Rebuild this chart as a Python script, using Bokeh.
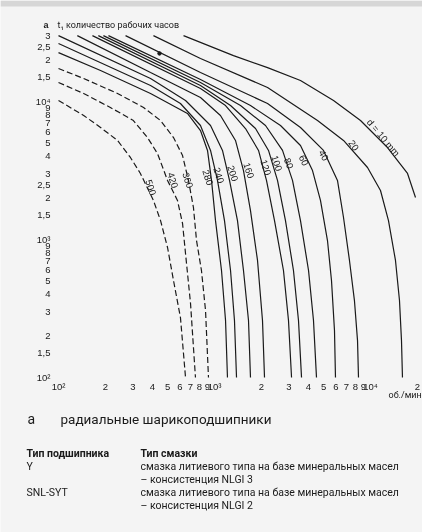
from bokeh.plotting import figure
from bokeh.models import BoxAnnotation, Range1d
from bokeh.core.properties import value
from bokeh.embed import file_html
from bokeh.resources import INLINE

# ---------------- data ----------------
rpm_ticks = [100, 200, 300, 400, 500, 600, 700, 800, 900,
             1000, 2000, 3000, 4000, 5000, 6000, 7000, 8000, 9000,
             10000, 20000]
rpm_tick_labels = ["10\u00b2", "2", "3", "4", "5", "6", "7", "8", "9",
                   "10\u00b3", "2", "3", "4", "5", "6", "7", "8", "9",
                   "10\u2074", "2"]
hour_ticks = [100, 150, 200, 300, 400, 500, 600, 700, 800, 900,
              1000, 1500, 2000, 2500, 3000, 4000, 5000, 6000, 7000, 8000, 9000,
              10000, 15000, 20000, 25000, 30000]
hour_tick_labels = ["10\u00b2", "1,5", "2", "3", "4", "5", "6", "7", "8", "9",
                    "10\u00b3", "1,5", "2", "2,5", "3", "4", "5", "6", "7", "8", "9",
                    "10\u2074", "1,5", "2", "2,5", "3"]

# bore diameter d = 10 mm
rpm_d10 = [633, 1324, 2188, 3558, 5794, 8630, 12850, 17270, 19430]
hrs_d10 = [30000, 21500, 17600, 14200, 10170, 7280, 4640, 3010, 2015]
# d = 20
rpm_d20 = [406, 813, 2188, 4575, 6714, 9570, 11590, 13040, 14460, 15340, 15800, 16030]
hrs_d20 = [30000, 20500, 12630, 7280, 5220, 3325, 2265, 1370, 705, 361, 185, 100]
# d = 40
rpm_d40 = [269, 813, 2188, 3558, 4996, 6142, 6714, 7332, 7890, 8258, 8375]
hrs_d40 = [30000, 16220, 9670, 6480, 4420, 2680, 1443, 705, 361, 185, 100]
# d = 60
rpm_d60 = [209, 813, 1701, 2649, 3558, 4249, 4779, 5300, 5623, 5877, 5964]
hrs_d60 = [30000, 14430, 9350, 6700, 4800, 3160, 1920, 983, 505, 219, 100]
# d = 80
rpm_d80 = [194, 813, 1468, 2123, 2729, 3162, 3558, 4007, 4311, 4506]
hrs_d80 = [30000, 13730, 9350, 6700, 4420, 2680, 1370, 596, 259, 100]
# d = 100
rpm_d100 = [180, 813, 1267, 1832, 2219, 2534, 2851, 3208, 3455, 3613]
hrs_d100 = [30000, 13060, 9350, 6370, 4420, 2680, 1370, 596, 259, 100]
# d = 120
rpm_d120 = [165, 813, 1177, 1580, 1915, 2154, 2425, 2768, 2981, 3118]
hrs_d120 = [30000, 12420, 9350, 6370, 4420, 2680, 1370, 596, 259, 100]
# d = 160
rpm_d160 = [132, 389, 813, 1092, 1363, 1534, 1701, 1887, 2031, 2092]
hrs_d160 = [30000, 16220, 10690, 7920, 5220, 3160, 1620, 705, 259, 100]
# d = 200
rpm_d200 = [100, 389, 652, 943, 1125, 1248, 1404, 1534, 1652, 1701]
hrs_d200 = [30000, 14680, 10170, 6700, 4420, 2680, 1370, 596, 259, 100]
# d = 240
rpm_d240 = [100, 389, 605, 813, 943, 1045, 1159, 1267, 1343, 1384]
hrs_d240 = [26300, 13060, 9670, 6700, 4420, 2680, 1370, 596, 259, 100]
# d = 280
rpm_d280 = [100, 186, 389, 671, 813, 902, 957, 1015, 1109, 1177, 1211]
hrs_d280 = [22600, 16770, 11430, 8190, 6160, 4420, 2680, 1370, 596, 259, 100]
# d = 360 (dashed)
rpm_d360 = [100, 145, 239, 351, 451, 546, 624, 681, 733, 767, 825, 876, 915]
hrs_d360 = [17340, 14680, 11430, 9050, 7280, 5480, 4060, 2680, 1706, 983, 596, 306, 100]
# d = 420 (dashed)
rpm_d420 = [100, 145, 215, 302, 372, 431, 500, 579, 624, 652, 702, 755]
hrs_d420 = [13730, 11430, 9050, 7280, 5480, 4200, 2680, 1920, 1306, 792, 344, 100]
# d = 500 (dashed)
rpm_d500 = [100, 145, 186, 239, 289, 335, 406, 451, 500, 546, 605, 652]
hrs_d500 = [10170, 7920, 6480, 5220, 3930, 3010, 1920, 1370, 875, 505, 272, 100]

curve_names = ["d = 10 mm", "20", "40", "60", "80", "100", "120", "160",
               "200", "240", "280", "360", "420", "500"]
curve_rpm = [rpm_d10, rpm_d20, rpm_d40, rpm_d60, rpm_d80, rpm_d100, rpm_d120,
             rpm_d160, rpm_d200, rpm_d240, rpm_d280, rpm_d360, rpm_d420, rpm_d500]
curve_hrs = [hrs_d10, hrs_d20, hrs_d40, hrs_d60, hrs_d80, hrs_d100, hrs_d120,
             hrs_d160, hrs_d200, hrs_d240, hrs_d280, hrs_d360, hrs_d420, hrs_d500]
curve_dashed = [False] * 11 + [True] * 3

# curve label anchor (rpm, hours) and angle
label_rpm = [12110, 7780, 4996, 3720, 2981, 2497, 2123, 1652, 1304, 1061, 902, 671, 538, 389]
label_hrs = [5480, 4800, 4060, 3740, 3560, 3560, 3325, 3160, 3010, 2910, 2810, 2680, 2680, 2380]
label_ang = [-50, -55, -62, -65, -70, -72, -72, -72, -72, -72, -72, -72, -72, -72]

dot_rpm = [444]
dot_hrs = [22300]

# ---------------- layout ----------------
W, H = 422, 532
X0, DX = 58, 156      # pixel of 10^2 rpm, pixels per decade
Y0, DY = 377, 138     # pixel of 10^2 hours, pixels per decade
INK = "#1a1a1a"
BG = "#f4f4f4"
SANS = "Roboto"


def xd(px):
    return 100 * 10 ** ((px - X0) / DX)


def yd(py):
    return 100 * 10 ** ((Y0 - py) / DY)


p = figure(width=W, height=H, x_axis_type="log", y_axis_type="log",
           x_range=Range1d(xd(0), xd(W)), y_range=Range1d(yd(H), yd(0)),
           output_backend="svg", toolbar_location=None,
           x_axis_location=None, y_axis_location=None,
           min_border=0, min_border_left=0, min_border_right=0,
           min_border_top=0, min_border_bottom=0)
p.styles = {"position": "fixed", "left": "0px", "top": "0px"}
p.background_fill_color = BG
p.border_fill_color = BG
p.outline_line_color = None
p.grid.visible = False

# top band
p.add_layout(BoxAnnotation(bottom=yd(6), fill_color="#d6d6d6", fill_alpha=1.0,
                           line_color=None))

# curves
for xs, ys, dashed in zip(curve_rpm, curve_hrs, curve_dashed):
    p.line(xs, ys, line_color=INK, line_width=1.2,
           line_dash="6 3" if dashed else "solid")

p.scatter(dot_rpm, dot_hrs, size=3.5, color=INK)

p.text(label_rpm, label_hrs, text=curve_names, angle=label_ang, angle_units="deg",
       text_align="center", text_baseline="middle",
       text_font=value("Liberation Sans"), text_font_size="9.5px", text_color=INK)

# tick labels along the scales
p.text(rpm_ticks, [yd(386)] * len(rpm_ticks), text=rpm_tick_labels,
       text_align="center", text_baseline="middle",
       text_font=value("Liberation Sans"), text_font_size="9.5px", text_color=INK)
p.text([xd(50)] * len(hour_ticks), hour_ticks, text=hour_tick_labels,
       text_align="right", text_baseline="middle",
       text_font=value("Liberation Sans"), text_font_size="9.5px", text_color=INK)


def text_at(px, py, txt, size, font=SANS, style="normal", align="left"):
    p.text([xd(px)], [yd(py)], text=[txt], text_font=value(font),
           text_font_size=size, text_font_style=style, text_color=INK,
           text_align=align, text_baseline="middle")


# axis titles
text_at(43, 24, "a", "9px", "Liberation Sans", "bold")
text_at(57, 24, "t\u2081 количество рабочих часов", "9px", SANS)
text_at(388, 394, "об./мин", "9px", SANS)

# caption
text_at(27, 418, "a", "14px", SANS)
text_at(60, 418, "радиальные шарикоподшипники", "13.5px", SANS)

# table
text_at(26, 453, "Тип подшипника", "10.5px", SANS, "bold")
text_at(140, 453, "Тип смазки", "10.5px", SANS, "bold")
text_at(26, 466, "Y", "10.5px", SANS)
text_at(140, 466, "смазка литиевого типа на базе минеральных масел", "10.5px", SANS)
text_at(140, 479, "– консистенция NLGI 3", "10.5px", SANS)
text_at(26, 492, "SNL-SYT", "10.5px", SANS)
text_at(140, 492, "смазка литиевого типа на базе минеральных масел", "10.5px", SANS)
text_at(140, 505, "– консистенция NLGI 2", "10.5px", SANS)

open("out.html", "w").write(file_html(p, INLINE))
